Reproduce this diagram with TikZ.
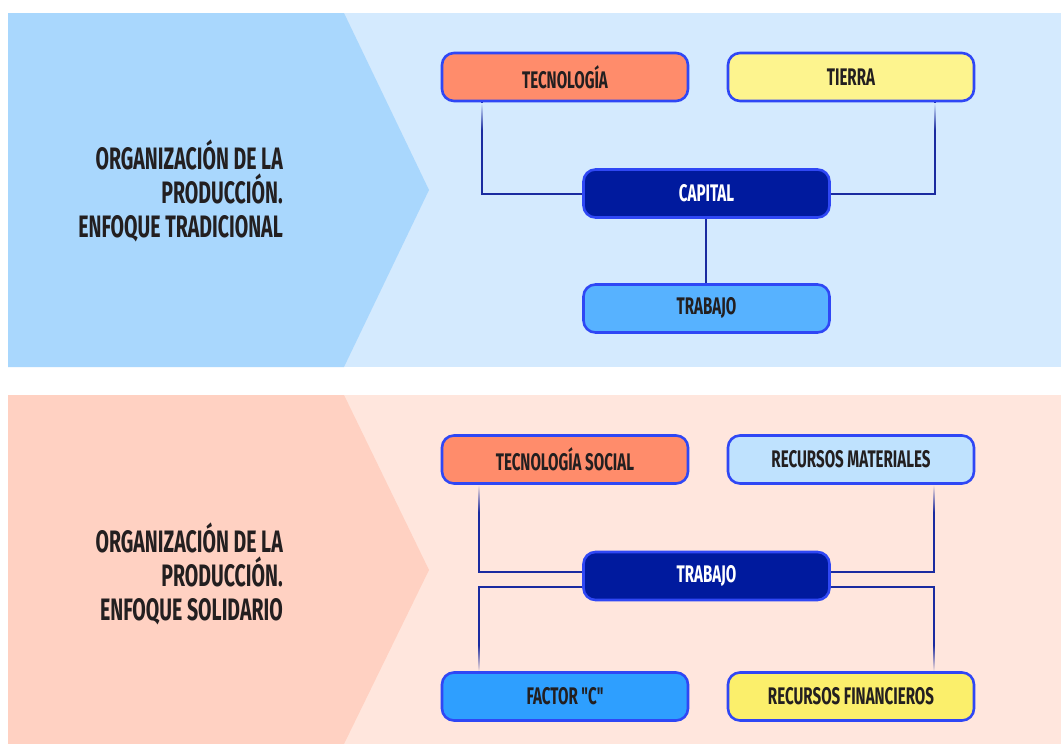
\documentclass[tikz,border=0pt]{standalone}
\usepackage{fontspec}
\usetikzlibrary{fadings}
\setmainfont{Fira Sans}[FakeStretch=0.63,UprightFont=* Bold,BoldFont=* Bold,Ligatures=TeXOff]
\definecolor{topbg}{HTML}{D4EAFE}
\definecolor{toparrow}{HTML}{A9D7FD}
\definecolor{botbg}{HTML}{FFE6DD}
\definecolor{botarrow}{HTML}{FFD1C2}
\definecolor{bordr}{HTML}{2F47F5}
\definecolor{linec}{HTML}{1A2BA0}
\definecolor{txt}{HTML}{231F20}
\definecolor{coral}{HTML}{FF8C6B}
\definecolor{paleyel}{HTML}{FDF48E}
\definecolor{navy}{HTML}{001A9E}
\definecolor{midblue}{HTML}{57B2FF}
\definecolor{paleblue}{HTML}{BFE2FE}
\definecolor{brblue}{HTML}{2E9FFF}
\definecolor{yel}{HTML}{FBEF6B}
\tikzset{
  box/.style={draw=bordr, line width=2.6pt, rounded corners=12pt, minimum width=246pt, minimum height=48pt, inner sep=0pt, font=\fontsize{24}{26}\selectfont, text=txt},
  darkbox/.style={box, fill=navy, text=white},
  conn/.style={draw=linec, line width=2pt},
  title/.style={align=right, anchor=east, font=\fontsize{31}{34}\selectfont, text=txt, inner sep=0pt}
}
\begin{document}
\begin{tikzpicture}[x=1pt,y=-1pt]
\useasboundingbox (0,0) rectangle (1061,744);
\fill[white] (0,0) rectangle (1061,744);
% panels
\fill[topbg] (8,13) rectangle (1061,367);
\fill[toparrow] (8,13) -- (344,13) -- (429,190) -- (344,367) -- (8,367) -- cycle;
\fill[botbg] (8,395) rectangle (1061,744);
\fill[botarrow] (8,395) -- (344,395) -- (429,570) -- (344,744) -- (8,744) -- cycle;
% titles
\node[title] (t1) at (283,191) {ORGANIZACIÓN DE LA\\PRODUCCIÓN.\\ENFOQUE TRADICIONAL};
\node[title] (t2) at (283,574) {ORGANIZACIÓN DE LA\\PRODUCCIÓN.\\ENFOQUE SOLIDARIO};
% top connectors
\coordinate (c1) at (482,194);
\coordinate (c2) at (935,194);
\draw[conn] (482,77) -- (c1) -- (706,194);
\draw[conn] (935,77) -- (c2) -- (706,194);
\fill[topbg, path fading=south] (476,103) rectangle (488,130);
\fill[topbg, path fading=south] (929,103) rectangle (941,130);
\draw[conn] (706,194) -- (706,308);
% top nodes
\node[box, fill=coral] (tec) at (565,77) {TECNOLOGÍA};
\node[box, fill=paleyel] (tie) at (851,77) {TIERRA};
\node[darkbox] (cap) at (706.5,193.5) {CAPITAL};
\node[box, fill=midblue] (tra) at (706.5,308.5) {TRABAJO};
% bottom connectors
\coordinate (d1) at (479,572);
\coordinate (d2) at (479,587);
\coordinate (d3) at (934,572);
\coordinate (d4) at (934,587);
\draw[conn] (479,460) -- (d1) -- (706,572);
\draw[conn] (479,696) -- (d2) -- (706,587);
\draw[conn] (934,460) -- (d3) -- (706,572);
\draw[conn] (934,696) -- (d4) -- (706,587);
\fill[botbg, path fading=south] (473,485) rectangle (485,512);
\fill[botbg, path fading=south] (928,485) rectangle (940,512);
\fill[botbg, path fading=north] (473,645) rectangle (485,671);
\fill[botbg, path fading=north] (928,645) rectangle (940,671);
% bottom nodes
\node[box, fill=coral] (tso) at (565,459.5) {TECNOLOGÍA SOCIAL};
\node[box, fill=paleblue] (rma) at (851,459.5) {RECURSOS MATERIALES};
\node[darkbox] (trb) at (706.5,576) {TRABAJO};
\node[box, fill=brblue] (fac) at (565,696.5) {FACTOR "C"};
\node[box, fill=yel] (rfi) at (851,696.5) {RECURSOS FINANCIEROS};
\end{tikzpicture}
\end{document}
